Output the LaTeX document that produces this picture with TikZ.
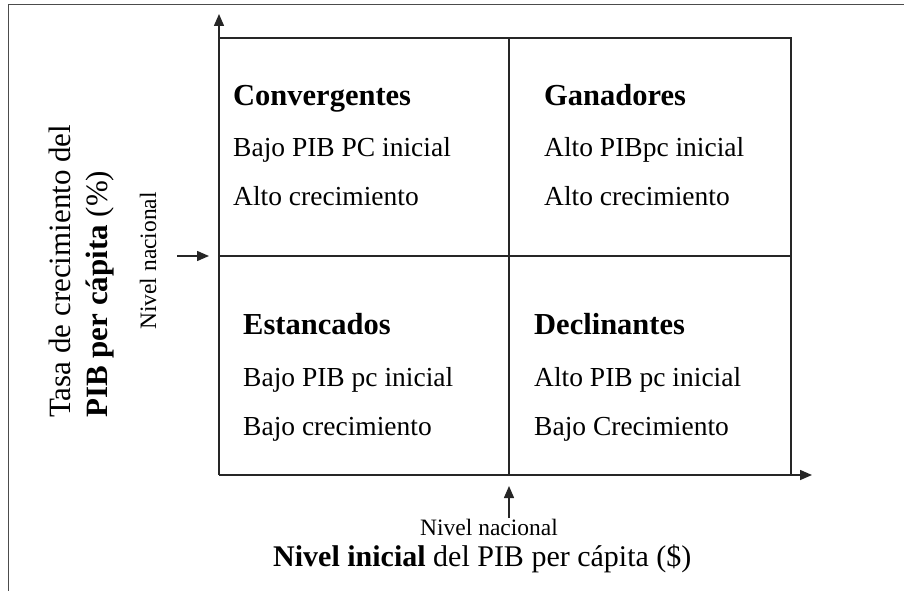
\documentclass[tikz,border=0pt]{standalone}
\usepackage{fontspec}
\setmainfont{Liberation Serif}
\usetikzlibrary{arrows.meta}
\begin{document}
\begin{tikzpicture}[x=1pt,y=-1pt,
  quad/.style={anchor=base west,inner sep=0pt,font=\fontsize{27.5}{27.5}\selectfont},
  quadhead/.style={quad,font=\fontsize{30.5}{30.5}\selectfont\bfseries},
  axislbl/.style={anchor=base west,inner sep=0pt,rotate=90,font=\fontsize{31}{31}\selectfont},
  smalllbl/.style={anchor=base west,inner sep=0pt,font=\fontsize{23.5}{23.5}\selectfont},
  boxline/.style={line width=1.5pt,black!85},
  axarrow/.style={line width=1.5pt,black!85,-{Triangle[length=12pt,width=10pt]}},
  frameline/.style={line width=1.3pt,black!70}]
\useasboundingbox (0,0) rectangle (904,591);
% outer frame (left and top)
\coordinate (f1) at (8.5,591);
\coordinate (f2) at (8.5,4.5);
\coordinate (f3) at (904,4.5);
\draw[frameline] (f1) -- (f2) -- (f3);
% box corners
\coordinate (tl) at (219,38);
\coordinate (tr) at (791,38);
\coordinate (bl) at (219,475);
\coordinate (br) at (791,475);
\coordinate (tm) at (509,38);
\coordinate (bm) at (509,475);
\coordinate (lm) at (219,256);
\coordinate (rm) at (791,256);
\coordinate (ytip) at (219,14);
\coordinate (xtip) at (812,475);
\draw[boxline] (tl) -- (tr) -- (br);
\draw[boxline] (tm) -- (bm);
\draw[boxline] (lm) -- (rm);
\draw[axarrow] (bl) -- (ytip);
\draw[axarrow] (bl) -- (xtip);
% national level arrows
\coordinate (la0) at (177,256);
\coordinate (la1) at (209,256);
\coordinate (ba0) at (509,518);
\coordinate (ba1) at (509,486);
\draw[axarrow] (la0) -- (la1);
\draw[axarrow] (ba0) -- (ba1);
% quadrant texts
\node[quadhead] (c1) at (233,106) {Convergentes};
\node[quad] (c2) at (233,156) {Bajo PIB PC inicial};
\node[quad] (c3) at (233,205) {Alto crecimiento};
\node[quadhead] (g1) at (544,106) {Ganadores};
\node[quad] (g2) at (544,156) {Alto PIBpc inicial};
\node[quad] (g3) at (544,205) {Alto crecimiento};
\node[quadhead] (e1) at (243,334) {Estancados};
\node[quad] (e2) at (243,386) {Bajo PIB pc inicial};
\node[quad] (e3) at (243,435) {Bajo crecimiento};
\node[quadhead] (d1) at (534,334) {Declinantes};
\node[quad] (d2) at (534,386) {Alto PIB pc inicial};
\node[quad] (d3) at (534,435) {Bajo Crecimiento};
% axis labels
\node[axislbl] (yl1) at (70,418) {Tasa de crecimiento del};
\node[axislbl] (yl2) at (107,418) {\textbf{PIB per cápita} (\%)};
\node[smalllbl,rotate=90] (ynat) at (156,330) {Nivel nacional};
\node[smalllbl] (xnat) at (420,535) {Nivel nacional};
\node[anchor=base west,inner sep=0pt,font=\fontsize{30}{30}\selectfont] (xl) at (273,566) {\textbf{Nivel inicial} del PIB per cápita (\$)};
\end{tikzpicture}
\end{document}
